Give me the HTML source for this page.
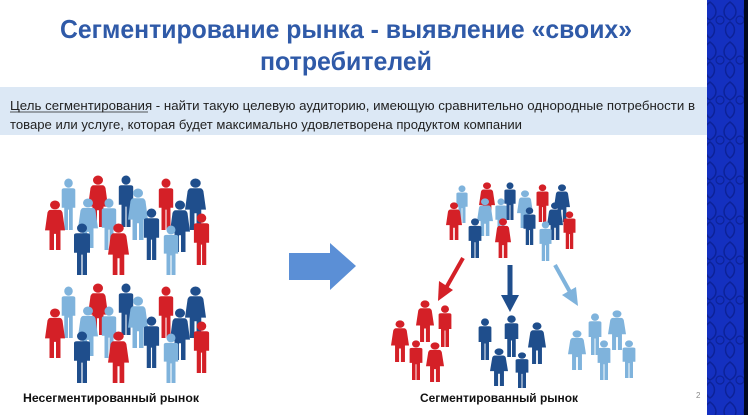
<!DOCTYPE html>
<html><head><meta charset="utf-8"><style>
html,body{margin:0;padding:0;background:#fff;width:748px;height:415px;overflow:hidden}
svg{display:block;font-family:"Liberation Sans",sans-serif}
</style></head><body>
<svg width="748" height="415" viewBox="0 0 748 415" xmlns="http://www.w3.org/2000/svg">
<defs>
<pattern id="orn" width="20" height="40" patternUnits="userSpaceOnUse">
<rect width="20" height="40" fill="#1430c0"/>
<path d="M10 2 C2 8 2 16 10 20 C18 16 18 8 10 2Z M10 22 C4 26 4 34 10 38 C16 34 16 26 10 22Z" fill="none" stroke="#0c2298" stroke-width="1.5"/>
<circle cx="0" cy="20" r="4" fill="none" stroke="#0c2298" stroke-width="1.2"/>
<circle cx="20" cy="20" r="4" fill="none" stroke="#0c2298" stroke-width="1.2"/>
</pattern>
<symbol id="m" viewBox="0 0 20 56" preserveAspectRatio="none">
<ellipse cx="10" cy="5.5" rx="5" ry="5"/>
<path d="M2 13 Q2 11 5 11 H15 Q18 11 18 13 V32 H15 V56 H10.6 V34 H9.4 V56 H5 V32 H2Z"/>
</symbol>
<symbol id="w" viewBox="0 0 20 56" preserveAspectRatio="none">
<ellipse cx="10" cy="5.5" rx="5" ry="5"/>
<path d="M5.5 11 H14.5 Q16.5 11 17.5 14 L20 34 H15.5 V56 H11 V38 H9 V56 H4.5 V34 H0 L2.5 14 Q3.5 11 5.5 11Z"/>
</symbol>
</defs>
<rect x="0" y="0" width="748" height="415" fill="#fff"/>
<rect x="707" y="0" width="41" height="415" fill="url(#orn)"/>
<rect x="744" y="0" width="4" height="415" fill="#000820"/>
<text x="346" y="38" text-anchor="middle" font-size="26" font-weight="bold" fill="#2f5aa8" textLength="572" lengthAdjust="spacingAndGlyphs">Сегментирование рынка - выявление «своих»</text>
<text x="346" y="70" text-anchor="middle" font-size="26" font-weight="bold" fill="#2f5aa8" textLength="172" lengthAdjust="spacingAndGlyphs">потребителей</text>
<rect x="0" y="87" width="707" height="48" fill="#dce8f5"/>
<text x="10" y="110" font-size="12.5" fill="#222" textLength="685" lengthAdjust="spacingAndGlyphs">Цель сегментирования - найти такую целевую аудиторию, имеющую сравнительно однородные потребности в</text>
<line x1="10" y1="112" x2="148" y2="112" stroke="#222" stroke-width="0.8"/>
<text x="10" y="129" font-size="12.5" fill="#222" textLength="512" lengthAdjust="spacingAndGlyphs">товаре или услуге, которая будет максимально удовлетворена продуктом компании</text>

<g id="g1">
<use href="#m" x="60" y="178" width="17" height="52" fill="#7fb3dc"/>
<use href="#w" x="88" y="175" width="20" height="52" fill="#d42027"/>
<use href="#m" x="117" y="175" width="18" height="52" fill="#1f4e8c"/>
<use href="#w" x="128" y="188" width="20" height="52" fill="#7fb3dc"/>
<use href="#m" x="157" y="178" width="18" height="52" fill="#d42027"/>
<use href="#w" x="185" y="178" width="21" height="52" fill="#1f4e8c"/>
<use href="#w" x="45" y="200" width="20" height="50" fill="#d42027"/>
<use href="#w" x="78" y="198" width="20" height="50" fill="#7fb3dc"/>
<use href="#m" x="100" y="198" width="18" height="52" fill="#7fb3dc"/>
<use href="#m" x="142" y="208" width="19" height="52" fill="#1f4e8c"/>
<use href="#w" x="170" y="200" width="20" height="52" fill="#1f4e8c"/>
<use href="#m" x="192" y="213" width="19" height="52" fill="#d42027"/>
<use href="#m" x="72" y="223" width="20" height="52" fill="#1f4e8c"/>
<use href="#w" x="108" y="223" width="21" height="52" fill="#d42027"/>
<use href="#m" x="162" y="225" width="18" height="50" fill="#7fb3dc"/>
</g>
<use href="#g1" x="0" y="108"/>

<path d="M289 253 H330 V243 L356 266 L330 290 V280 H289Z" fill="#5b8fd6"/>

<use href="#m" x="455" y="185" width="14" height="38" fill="#7fb3dc"/>
<use href="#w" x="479" y="182" width="16" height="38" fill="#d42027"/>
<use href="#m" x="503" y="182" width="14" height="38" fill="#1f4e8c"/>
<use href="#w" x="517" y="190" width="16" height="38" fill="#7fb3dc"/>
<use href="#m" x="535" y="184" width="15" height="38" fill="#d42027"/>
<use href="#w" x="554" y="184" width="16" height="38" fill="#1f4e8c"/>
<use href="#w" x="446" y="202" width="16" height="38" fill="#d42027"/>
<use href="#w" x="477" y="198" width="16" height="38" fill="#7fb3dc"/>
<use href="#m" x="494" y="198" width="14" height="38" fill="#7fb3dc"/>
<use href="#m" x="522" y="207" width="15" height="38" fill="#1f4e8c"/>
<use href="#w" x="547" y="202" width="16" height="38" fill="#1f4e8c"/>
<use href="#m" x="562" y="211" width="15" height="38" fill="#d42027"/>
<use href="#m" x="467" y="218" width="16" height="40" fill="#1f4e8c"/>
<use href="#w" x="495" y="218" width="16" height="40" fill="#d42027"/>
<use href="#m" x="538" y="221" width="15" height="40" fill="#7fb3dc"/>

<line x1="463" y1="258" x2="446" y2="288" stroke="#d42027" stroke-width="4"/>
<path d="M438 301 L439 281 L453 290Z" fill="#d42027"/>
<line x1="510" y1="265" x2="510" y2="297" stroke="#1f4e8c" stroke-width="5"/>
<path d="M501 295 H519 L510 312Z" fill="#1f4e8c"/>
<line x1="555" y1="265" x2="570" y2="292" stroke="#7fb3dc" stroke-width="4"/>
<path d="M578 306 L562 295 L576 287Z" fill="#7fb3dc"/>

<use href="#w" x="391" y="320" width="18" height="42" fill="#d42027"/>
<use href="#w" x="416" y="300" width="18" height="42" fill="#d42027"/>
<use href="#m" x="437" y="305" width="16" height="42" fill="#d42027"/>
<use href="#m" x="408" y="340" width="16" height="40" fill="#d42027"/>
<use href="#w" x="426" y="342" width="18" height="40" fill="#d42027"/>

<use href="#m" x="477" y="318" width="16" height="42" fill="#1f4e8c"/>
<use href="#m" x="503" y="315" width="17" height="42" fill="#1f4e8c"/>
<use href="#w" x="528" y="322" width="18" height="42" fill="#1f4e8c"/>
<use href="#w" x="490" y="348" width="18" height="38" fill="#1f4e8c"/>
<use href="#m" x="514" y="352" width="16" height="36" fill="#1f4e8c"/>

<use href="#w" x="568" y="330" width="18" height="40" fill="#7fb3dc"/>
<use href="#m" x="587" y="313" width="16" height="42" fill="#7fb3dc"/>
<use href="#w" x="608" y="310" width="18" height="40" fill="#7fb3dc"/>
<use href="#m" x="596" y="340" width="16" height="40" fill="#7fb3dc"/>
<use href="#m" x="621" y="340" width="16" height="38" fill="#7fb3dc"/>

<text x="23" y="402" font-size="12" font-weight="bold" fill="#111" textLength="176" lengthAdjust="spacingAndGlyphs">Несегментированный рынок</text>
<text x="420" y="402" font-size="12" font-weight="bold" fill="#111" textLength="158" lengthAdjust="spacingAndGlyphs">Сегментированный рынок</text>
<text x="696" y="398" font-size="8" fill="#888">2</text>
</svg>
</body></html>
